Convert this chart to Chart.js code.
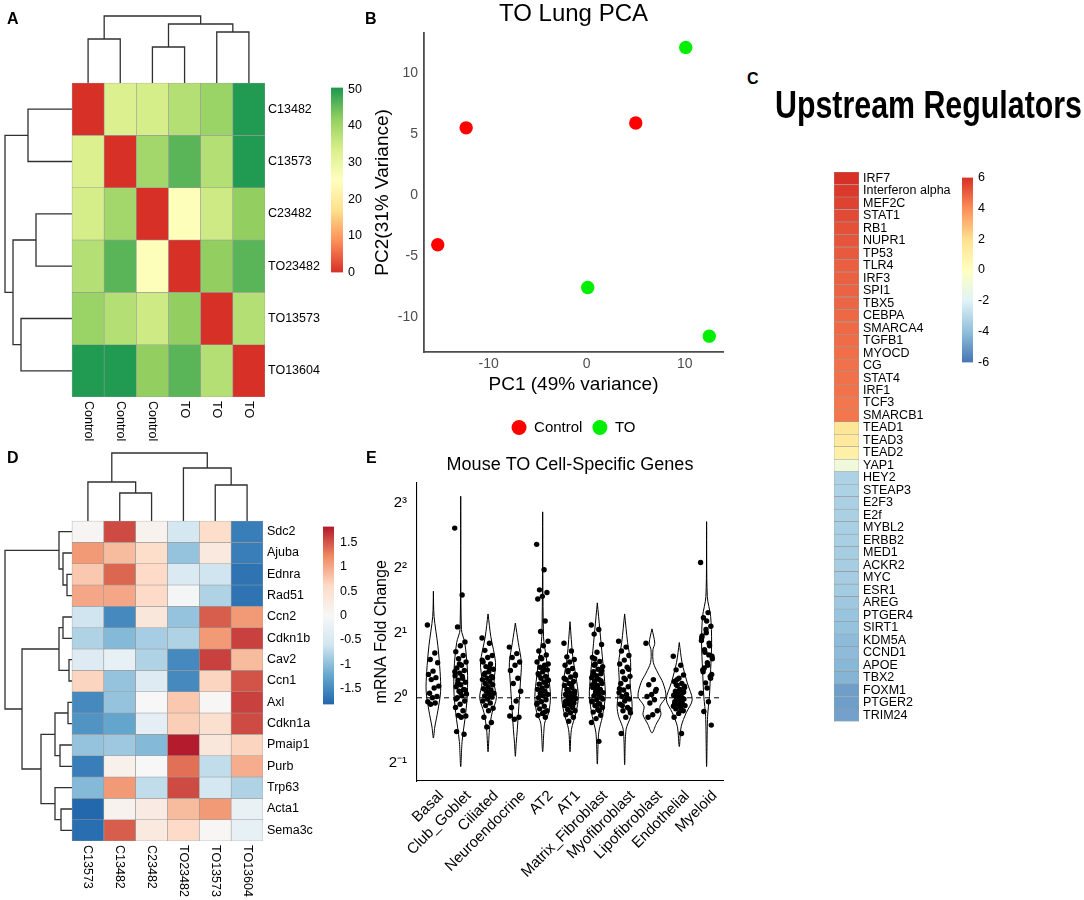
<!DOCTYPE html>
<html>
<head>
<meta charset="utf-8">
<script src="https://cdn.jsdelivr.net/npm/chart.js@4.4.0/dist/chart.umd.min.js"></script>
<style>
  body { margin: 0; background: #fff; }
  #page { position: relative; width: 1084px; height: 900px; overflow: hidden; background: #fff; }
  .box { position: absolute; }
  .tag { position: absolute; font: bold 16px 'Liberation Sans', Arial, sans-serif; line-height: 16px; color: #000; }
</style>
</head>
<body>
<div id="page">
  <div class="box" style="left:0;top:0;width:370px;height:450px"><canvas id="heatA"></canvas></div>
  <div class="box" style="left:325px;top:75px;width:45px;height:210px"><canvas id="barA"></canvas></div>
  <div class="box" style="left:370px;top:0;width:365px;height:445px"><canvas id="pcaB"></canvas></div>
  <div class="box" style="left:760px;top:80px;width:324px;height:653px"><canvas id="regC"></canvas></div>
  <div class="box" style="left:955px;top:165px;width:50px;height:210px"><canvas id="barC"></canvas></div>
  <div class="box" style="left:0;top:440px;width:370px;height:460px"><canvas id="heatD"></canvas></div>
  <div class="box" style="left:317px;top:513px;width:53px;height:205px"><canvas id="barD"></canvas></div>
  <div class="box" style="left:370px;top:440px;width:370px;height:460px"><canvas id="violinE"></canvas></div>
  <div class="tag" style="left:7px;top:11px">A</div>
  <div class="tag" style="left:365px;top:11px">B</div>
  <div class="tag" style="left:747px;top:71px">C</div>
  <div class="tag" style="left:7px;top:450px">D</div>
  <div class="tag" style="left:366px;top:450px">E</div>
</div>
<script>
// ---------- data: panel A (sample distances) ----------
const sampleIds = ['C13482', 'C13573', 'C23482', 'TO23482', 'TO13573', 'TO13604'];
const sampleGroups = ['Control', 'Control', 'Control', 'TO', 'TO', 'TO'];
const distRows = [
  [0, 33, 34, 38, 41, 50],
  [33, 0, 40, 46, 38, 50],
  [34, 40, 0, 26, 35, 42],
  [38, 46, 26, 0, 42, 46],
  [41, 38, 35, 42, 0, 38],
  [50, 50, 42, 46, 38, 0]
];
// merges: [left, right, height]; number = leaf index, 'mK' = merge K
const distTree = [[0, 1, 44], [2, 3, 36], [4, 5, 51], ['m1', 'm2', 59], ['m0', 'm3', 67]];
const distTicks = [0, 10, 20, 30, 40, 50];

// ---------- data: panel B (PCA) ----------
const pcaControl = [[-15.2, -4.1], [-12.3, 5.5], [5.0, 5.9]];
const pcaTO = [[10.1, 12.1], [0.1, -7.6], [12.5, -11.6]];
const pcaXTicks = [-10, 0, 10];
const pcaYTicks = [-10, -5, 0, 5, 10];

// ---------- data: panel C (upstream regulators, z-score) ----------
const regulators = ['IRF7', 'Interferon alpha', 'MEF2C', 'STAT1', 'RB1', 'NUPR1', 'TP53', 'TLR4', 'IRF3', 'SPI1',
  'TBX5', 'CEBPA', 'SMARCA4', 'TGFB1', 'MYOCD', 'CG', 'STAT4', 'IRF1', 'TCF3', 'SMARCB1',
  'TEAD1', 'TEAD3', 'TEAD2', 'YAP1', 'HEY2', 'STEAP3', 'E2F3', 'E2f', 'MYBL2', 'ERBB2',
  'MED1', 'ACKR2', 'MYC', 'ESR1', 'AREG', 'PTGER4', 'SIRT1', 'KDM5A', 'CCND1', 'APOE',
  'TBX2', 'FOXM1', 'PTGER2', 'TRIM24'];
const regulatorZ = [6.0, 5.8, 5.6, 5.45, 5.3, 5.2, 5.1, 5.0, 4.95, 4.9,
  4.85, 4.8, 4.75, 4.7, 4.65, 4.6, 4.6, 4.55, 4.5, 4.5,
  1.6, 1.4, 1.0, -1.0, -3.3, -3.3, -3.35, -3.35, -3.4, -3.4,
  -3.45, -3.45, -3.5, -3.55, -3.65, -3.8, -3.9, -4.1, -4.1, -4.2,
  -4.3, -4.9, -4.9, -4.8];
const regTicks = [-6, -4, -2, 0, 2, 4, 6];

// ---------- data: panel D (gene z-scores) ----------
const geneNames = ['Sdc2', 'Ajuba', 'Ednra', 'Rad51', 'Ccn2', 'Cdkn1b', 'Cav2', 'Ccn1', 'Axl', 'Cdkn1a',
  'Pmaip1', 'Purb', 'Trp63', 'Acta1', 'Sema3c'];
const geneSamples = ['C13573', 'C13482', 'C23482', 'TO23482', 'TO13573', 'TO13604'];
const geneZ = [
  [0.05, 1.55, 0.1, -0.55, 0.55, -1.6],
  [1.1, 0.85, 0.55, -0.95, 0.3, -1.6],
  [0.75, 1.4, 0.6, -0.45, -0.6, -1.7],
  [1.0, 1.0, 0.6, -0.05, -0.8, -1.7],
  [-0.6, -1.5, 0.35, -0.95, 1.45, 1.1],
  [-0.8, -1.05, -0.85, -0.8, 1.1, 1.6],
  [-0.4, -0.25, -0.8, -1.5, 1.6, 0.85],
  [0.65, -0.95, -0.4, -1.5, 0.65, 1.5],
  [-1.5, -0.95, 0.0, 0.75, 0.02, 1.6],
  [-1.4, -1.25, -0.3, 0.7, 0.5, 1.55],
  [-0.95, -0.9, -1.05, 1.8, 0.35, 0.65],
  [-1.6, 0.15, 0.0, 1.35, -0.7, 0.95],
  [-1.05, 1.1, -0.7, 1.55, -0.55, -0.8],
  [-1.8, 0.1, 0.25, 0.85, 1.1, -0.2],
  [-1.75, 1.45, 0.3, 0.6, 0.02, -0.25]
];
const geneTree = [[2, 3, 5], [1, 'm0', 9], [0, 'm1', 13], [4, 5, 9], [6, 7, 3], ['m3', 'm4', 13],
  [8, 9, 4], [10, 11, 12], ['m6', 'm7', 17], [13, 14, 11], [12, 'm9', 17], ['m8', 'm10', 31],
  ['m5', 'm11', 50], ['m2', 'm12', 67]];
const geneSampleTree = [[1, 2, 28], [0, 'm0', 39], [4, 5, 36], [3, 'm2', 53], ['m1', 'm3', 68]];
const geneTicks = [-1.5, -1, -0.5, 0, 0.5, 1, 1.5];

// ---------- data: panel E (log2 fold change per cell type) ----------
const cellTypes = ['Basal', 'Club_Goblet', 'Ciliated', 'Neuroendocrine', 'AT2', 'AT1', 'Matrix_Fibroblast',
  'Myofibroblast', 'Lipofibroblast', 'Endothelial', 'Myeloid'];
// violin outline: [log2 FC, relative half width], top to bottom
const violinProfiles = [
  [[1.64, 0], [1.25, 0.05], [0.8, 0.32], [0.4, 0.48], [0.1, 0.52], [-0.2, 0.32], [-0.45, 0.1], [-0.62, 0]],
  [[3.1, 0], [1.05, 0.05], [0.85, 0.29], [0.43, 0.48], [0.07, 0.48], [-0.23, 0.36], [-0.67, 0.1], [-1.06, 0]],
  [[1.29, 0], [0.94, 0.2], [0.54, 0.54], [0.23, 0.43], [0, 0.6], [-0.23, 0.29], [-0.49, 0.1], [-0.83, 0]],
  [[1.15, 0], [0.85, 0.21], [0.54, 0.43], [0.23, 0.36], [-0.13, 0.25], [-0.49, 0.14], [-0.7, 0.06], [-0.9, 0]],
  [[2.86, 0], [0.94, 0.06], [0.63, 0.25], [0.32, 0.43], [0.02, 0.56], [-0.23, 0.43], [-0.39, 0.14], [-0.83, 0]],
  [[1.17, 0], [0.63, 0.2], [0.32, 0.43], [0.02, 0.6], [-0.23, 0.43], [-0.49, 0.1], [-0.83, 0]],
  [[1.46, 0], [1.05, 0.18], [0.63, 0.36], [0.32, 0.5], [0.02, 0.57], [-0.29, 0.36], [-0.54, 0.1], [-1.02, 0]],
  [[1.29, 0], [0.85, 0.21], [0.54, 0.43], [0.23, 0.39], [-0.13, 0.54], [-0.29, 0.43], [-0.49, 0.1], [-1.03, 0]],
  [[1.06, 0], [0.84, 0.2], [0.74, 0.07], [0.54, 0.1], [0.38, 0.43], [0.23, 0.79], [0.02, 1.0], [-0.13, 0.57],
    [-0.26, 0.64], [-0.41, 0.29], [-0.54, 0]],
  [[0.85, 0], [0.54, 0.2], [0.23, 0.57], [-0.03, 0.93], [-0.23, 0.5], [-0.44, 0.14], [-0.75, 0]],
  [[2.71, 0], [1.56, 0.05], [1.25, 0.29], [0.85, 0.36], [0.43, 0.29], [0.02, 0.2], [-0.29, 0.07], [-1.06, 0]]
];
const cellPoints = [
  [1.12, 0.69, 0.59, 0.54, 0.41, 0.36, 0.31, 0.28, 0.18, 0.15, 0.07, 0.02, 0.0, -0.06, -0.08, -0.1],
  [2.61, 1.58, 1.09, 0.86, 0.8, 0.71, 0.65, 0.6, 0.55, 0.5, 0.46, 0.42, 0.38, 0.34, 0.3, 0.27, 0.24, 0.2, 0.17,
    0.13, 0.1, 0.06, 0.03, 0.0, -0.05, -0.1, -0.15, -0.2, -0.27, -0.28, -0.3, -0.52, -0.56, 0.52, 0.4, 0.33,
    0.22, 0.12, 0.08, -0.02],
  [0.92, 0.84, 0.73, 0.65, 0.62, 0.55, 0.52, 0.48, 0.44, 0.4, 0.36, 0.33, 0.3, 0.28, 0.25, 0.22, 0.2, 0.17,
    0.14, 0.12, 0.1, 0.07, 0.05, 0.03, 0.01, -0.02, -0.05, -0.08, -0.12, -0.16, -0.2, -0.3, -0.38, -0.45, 0.58,
    0.46, 0.38, 0.31],
  [0.78, 0.68, 0.62, 0.55, 0.5, 0.42, 0.3, 0.22, 0.1, -0.05, -0.15, -0.3, -0.33, -0.28],
  [2.36, 1.97, 1.66, 1.62, 1.56, 1.52, 1.18, 1.02, 0.87, 0.8, 0.72, 0.66, 0.6, 0.55, 0.5, 0.47, 0.43, 0.4,
    0.37, 0.33, 0.3, 0.27, 0.24, 0.21, 0.18, 0.15, 0.13, 0.1, 0.07, 0.05, 0.03, 0.0, -0.03, -0.06, -0.1, -0.13,
    -0.17, -0.2, -0.24, -0.27, -0.3, 0.62, 0.52, 0.45, 0.35, 0.25, 0.12, -0.08, -0.22],
  [0.84, 0.72, 0.63, 0.59, 0.55, 0.5, 0.45, 0.4, 0.36, 0.32, 0.28, 0.25, 0.22, 0.19, 0.16, 0.13, 0.1, 0.08,
    0.05, 0.03, 0.01, -0.01, -0.03, -0.05, -0.08, -0.1, -0.12, -0.15, -0.18, -0.2, -0.23, -0.26, -0.3, -0.36,
    0.3, 0.2, 0.12, 0.06, 0.0, -0.06, -0.14, 0.42, 0.34, 0.02, -0.09],
  [1.12, 1.05, 0.98, 0.82, 0.7, 0.62, 0.56, 0.52, 0.48, 0.44, 0.4, 0.37, 0.34, 0.31, 0.28, 0.25, 0.22, 0.19,
    0.16, 0.13, 0.1, 0.08, 0.05, 0.03, 0.0, -0.03, -0.06, -0.09, -0.12, -0.15, -0.18, -0.22, -0.27, -0.32,
    -0.38, -0.67, 0.5, 0.42, 0.3, 0.2, 0.12, 0.06, -0.02, -0.1, 0.35, 0.26, 0.15, -0.05, -0.2, 0.6],
  [0.87, 0.78, 0.72, 0.65, 0.58, 0.52, 0.47, 0.4, 0.33, 0.28, 0.22, 0.17, 0.12, 0.08, 0.05, 0.02, -0.02, -0.05,
    -0.1, -0.15, -0.2, -0.23, -0.3, -0.55, 0.44, 0.3, 0.14, 0.0, -0.12, -0.18],
  [0.84, 0.28, 0.2, 0.13, 0.05, 0.02, -0.03, -0.08, -0.2, -0.26, -0.3, 0.1],
  [0.64, 0.5, 0.43, 0.35, 0.3, 0.25, 0.22, 0.19, 0.16, 0.13, 0.1, 0.08, 0.06, 0.04, 0.02, 0.0, -0.02, -0.04,
    -0.06, -0.08, -0.1, -0.12, -0.14, -0.17, -0.2, -0.24, -0.3, -0.55, 0.28, 0.18, 0.12, 0.05, -0.01, -0.07,
    -0.13, -0.19, 0.2, 0.09, -0.03, -0.1],
  [2.08, 1.31, 1.23, 1.1, 1.0, 0.92, 0.84, 0.74, 0.64, 0.54, 0.43, 0.33, 0.23, 0.07, -0.06, -0.21, -0.42, 1.18,
    0.95, 0.8, 0.7, 0.6, 0.5, 0.4, 0.3, 1.05, 0.88, 0.66, 0.46, 0.36, 0.15]
];
const log2Ticks = [-1, 0, 1, 2, 3];

// ---------- palettes (low -> high) ----------
const RDYLGN = ['#D73027', '#FC8D59', '#FEE08B', '#FFFFBF', '#D9EF8B', '#91CF60', '#1A9850'];
const RDYLBU = ['#4575B4', '#91BFDB', '#E0F3F8', '#FFFFBF', '#FEE090', '#FC8D59', '#D73027'];
const RDBU = ['#2166AC', '#67A9CF', '#D1E5F0', '#F7F7F7', '#FDDBC7', '#EF8A62', '#B2182B'];

Chart.defaults.font.family = "'Liberation Sans', Arial, Helvetica, sans-serif";
Chart.defaults.color = '#000';
Chart.defaults.animation = false;
Chart.defaults.maintainAspectRatio = false;
Chart.defaults.plugins.legend.display = false;
Chart.defaults.plugins.tooltip.enabled = false;

function hexRgb(h) {
  return [1, 3, 5].map(i => parseInt(h.slice(i, i + 2), 16));
}

// linear colour ramp like colorRampPalette
function ramp(stops, lo, hi, v) {
  const t = Math.min(1, Math.max(0, (v - lo) / (hi - lo))) * (stops.length - 1);
  const i = Math.min(stops.length - 2, Math.floor(t));
  const f = t - i;
  const a = hexRgb(stops[i]), b = hexRgb(stops[i + 1]);
  return 'rgb(' + a.map((x, k) => Math.round(x + (b[k] - x) * f)).join(',') + ')';
}

// turn a merge list into U-shaped segments [[pos, h] x4]
function dendroSegments(tree) {
  const nodes = [];
  const get = ref => typeof ref === 'number' ? { pos: ref + 0.5, h: 0 } : nodes[+ref.slice(1)];
  return tree.map(([a, b, h]) => {
    const l = get(a), r = get(b);
    nodes.push({ pos: (l.pos + r.pos) / 2, h: h });
    return [[l.pos, l.h], [l.pos, h], [r.pos, h], [r.pos, r.h]];
  });
}

// column labels under a heatmap, rotated like pheatmap
const colLabelPlugin = {
  id: 'colLabels',
  afterDraw(chart, args, opts) {
    if (!opts.labels) return;
    const ctx = chart.ctx, x = chart.scales.x, y = chart.scales.y;
    ctx.save();
    ctx.font = opts.font;
    ctx.fillStyle = '#000';
    ctx.textAlign = 'left';
    ctx.textBaseline = 'middle';
    opts.labels.forEach((lab, c) => {
      ctx.save();
      ctx.translate(x.getPixelForValue(c + 0.5), y.getPixelForValue(y.max) + opts.gap);
      ctx.rotate(Math.PI / 2);
      ctx.fillText(lab, 0, 0);
      ctx.restore();
    });
    ctx.restore();
  }
};

// free caption (used for the squeezed panel C heading)
const captionPlugin = {
  id: 'caption',
  afterDraw(chart, args, o) {
    if (!o.text) return;
    const ctx = chart.ctx;
    ctx.save();
    ctx.font = o.font;
    ctx.fillStyle = '#000';
    ctx.textAlign = 'center';
    ctx.textBaseline = 'middle';
    ctx.fillText(o.text, o.x, o.y, o.maxWidth);
    ctx.restore();
  }
};

function clusteredHeatmap(id, g) {
  const nR = g.rows.length, nC = g.cols.length;
  const xMin = -nC * g.leftDendro / g.heatW;
  const yMin = -nR * g.topDendro / g.heatH;
  const maxRowH = Math.max(...g.rowTree.map(m => m[2]));
  const maxColH = Math.max(...g.colTree.map(m => m[2]));
  const datasets = [];
  g.matrix.forEach((row, r) => {
    datasets.push({
      type: 'bar',
      data: row.map((v, c) => ({ x: c + 0.5, y: [r, r + 1] })),
      backgroundColor: row.map(v => ramp(g.stops, g.lo, g.hi, v)),
      borderColor: '#9a9a9a',
      borderWidth: 0.6,
      borderSkipped: false,
      grouped: false,
      barPercentage: 1,
      categoryPercentage: 1
    });
  });
  const line = pts => ({
    type: 'line', data: pts, borderColor: '#303030', borderWidth: 1.3,
    pointRadius: 0, fill: false, tension: 0, clip: false
  });
  dendroSegments(g.colTree).forEach(s => datasets.push(line(s.map(([p, h]) => ({ x: p, y: h * yMin / maxColH })))));
  dendroSegments(g.rowTree).forEach(s => datasets.push(line(s.map(([p, h]) => ({ x: h * xMin / maxRowH, y: p })))));

  new Chart(document.getElementById(id), {
    type: 'bar',
    data: { datasets: datasets },
    plugins: [colLabelPlugin],
    options: {
      layout: { padding: { left: g.padL, top: g.padT, right: 0, bottom: g.padB } },
      plugins: { colLabels: { labels: g.cols, font: '12.5px "Liberation Sans", Arial, sans-serif', gap: 4 } },
      scales: {
        x: {
          type: 'linear', min: xMin, max: nC, display: false, offset: false,
          afterBuildTicks: s => { s.ticks = g.cols.map((_, c) => ({ value: c + 0.5 })); }
        },
        y: {
          type: 'linear', min: yMin, max: nR, reverse: true, position: 'right',
          grid: { display: false, drawTicks: false }, border: { display: false },
          afterBuildTicks: s => { s.ticks = g.rows.map((_, r) => ({ value: r + 0.5 })); },
          ticks: { autoSkip: false, padding: g.labelPad, font: { size: 12.5 }, color: '#000',
            callback: v => g.rows[Math.floor(v)] },
          afterFit: s => { s.width = g.axisW; }
        }
      }
    }
  });
}

function colorBar(id, g) {
  new Chart(document.getElementById(id), {
    type: 'bar',
    data: {
      labels: [''],
      datasets: [{
        data: [[g.lo, g.hi]],
        backgroundColor: c => {
          const a = c.chart.chartArea;
          if (!a) return null;
          const grad = c.chart.ctx.createLinearGradient(0, a.bottom, 0, a.top);
          g.stops.forEach((s, i) => grad.addColorStop(i / (g.stops.length - 1), s));
          return grad;
        },
        borderWidth: 0, barPercentage: 1, categoryPercentage: 1
      }]
    },
    options: {
      layout: { padding: { left: g.padL, top: g.padT, right: 0, bottom: g.padB } },
      scales: {
        x: { display: false },
        y: {
          position: 'right', min: g.lo, max: g.hi,
          grid: { display: false, drawTicks: false }, border: { display: false },
          afterBuildTicks: s => { s.ticks = g.ticks.map(v => ({ value: v })); },
          ticks: { padding: g.tickPad, font: { size: 12.5 }, color: '#000', callback: v => String(v) },
          afterFit: s => { s.width = g.axisW; }
        }
      }
    }
  });
}

// ---------- panel A ----------
clusteredHeatmap('heatA', {
  rows: sampleIds, cols: sampleGroups, matrix: distRows, stops: RDYLGN, lo: 0, hi: 50.5,
  rowTree: distTree, colTree: distTree,
  heatW: 193, heatH: 314, leftDendro: 67, topDendro: 67,
  padL: 5, padT: 16, padB: 53, axisW: 105, labelPad: 3
});
colorBar('barA', { stops: RDYLGN, lo: 0, hi: 50.5, ticks: distTicks, padL: 6, padT: 8, padB: 12, axisW: 27, tickPad: 5 });

// ---------- panel B ----------
const pcaAxis = {
  grid: { display: false, drawTicks: false },
  border: { color: '#4d4d4d', width: 1.8 },
  ticks: { font: { size: 14 }, color: '#4d4d4d' }
};
new Chart(document.getElementById('pcaB'), {
  type: 'scatter',
  data: {
    datasets: [
      { label: 'Control', data: pcaControl.map(([x, y]) => ({ x, y })), backgroundColor: '#ff0000',
        borderWidth: 0, pointRadius: 6.7, pointStyle: 'circle' },
      { label: 'TO', data: pcaTO.map(([x, y]) => ({ x, y })), backgroundColor: '#00ee00',
        borderWidth: 0, pointRadius: 6.7, pointStyle: 'circle' }
    ]
  },
  options: {
    layout: { padding: { left: 0, top: 0, right: 12, bottom: 0 } },
    plugins: {
      title: { display: true, text: 'TO Lung PCA', fullSize: false, color: '#000',
        font: { size: 24, weight: 'normal' }, padding: { top: 0, bottom: 4 } },
      legend: { display: true, position: 'bottom', fullSize: false,
        labels: { usePointStyle: true, pointStyle: 'circle', boxWidth: 15, boxHeight: 10.6, padding: 10,
          font: { size: 15 }, color: '#000' } }
    },
    scales: {
      x: Object.assign({}, pcaAxis, {
        type: 'linear', min: -16.6, max: 13.9,
        afterBuildTicks: s => { s.ticks = pcaXTicks.map(v => ({ value: v })); },
        ticks: Object.assign({}, pcaAxis.ticks, { padding: 4 }),
        title: { display: true, text: 'PC1 (49% variance)', color: '#000', font: { size: 19 }, padding: { top: 0, bottom: 14 } },
        afterFit: s => { s.height = 58; }
      }),
      y: Object.assign({}, pcaAxis, {
        type: 'linear', min: -12.9, max: 13.3,
        afterBuildTicks: s => { s.ticks = pcaYTicks.map(v => ({ value: v })); },
        ticks: Object.assign({}, pcaAxis.ticks, { padding: 6 }),
        title: { display: true, text: 'PC2(31% Variance)', color: '#000', font: { size: 19 }, padding: { top: 1, bottom: 0 } },
        afterFit: s => { s.width = 54; }
      })
    }
  }
});

// ---------- panel C ----------
new Chart(document.getElementById('regC'), {
  type: 'bar',
  data: {
    labels: regulators,
    datasets: [{
      data: regulators.map(() => [0, 1]),
      backgroundColor: regulatorZ.map(v => ramp(RDYLBU, -6, 6, v)),
      borderColor: '#9a9a9a', borderWidth: 0.6, borderSkipped: false,
      barPercentage: 1, categoryPercentage: 1
    }]
  },
  plugins: [captionPlugin],
  options: {
    indexAxis: 'y',
    layout: { padding: { left: 74, top: 92, right: 0, bottom: 4 } },
    plugins: {
      caption: { text: 'Upstream Regulators', x: 168.5, y: 28, maxWidth: 307,
        font: 'bold 38px "Liberation Sans", Arial, sans-serif' }
    },
    scales: {
      x: { display: false, min: 0, max: 1 },
      y: {
        position: 'right', grid: { display: false, drawTicks: false }, border: { display: false },
        ticks: { autoSkip: false, padding: 4, font: { size: 12.5 }, color: '#000' },
        afterFit: s => { s.width = 225; }
      }
    }
  }
});
colorBar('barC', { stops: RDYLBU, lo: -6, hi: 6, ticks: regTicks, padL: 7, padT: 8, padB: 12, axisW: 32, tickPad: 5 });

// ---------- panel D ----------
clusteredHeatmap('heatD', {
  rows: geneNames, cols: geneSamples, matrix: geneZ, stops: RDBU, lo: -1.82, hi: 1.82,
  rowTree: geneTree, colTree: geneSampleTree,
  heatW: 191, heatH: 320, leftDendro: 67, topDendro: 68,
  padL: 5, padT: 13, padB: 59, axisW: 107, labelPad: 4
});
colorBar('barD', { stops: RDBU, lo: -1.82, hi: 1.82, ticks: geneTicks, padL: 6, padT: 8, padB: 8, axisW: 36, tickPad: 6 });

// ---------- panel E ----------
const SUP = { '-1': '\u207b\u00b9', '0': '\u2070', '1': '\u00b9', '2': '\u00b2', '3': '\u00b3' };
const VIOLIN_HALF = 0.51;   // category units for relative width 1
const JITTER = 0.22;
const jitter = i => JITTER * (2 * ((i * 0.6180339887) % 1) - 1);

const eSets = [];
cellPoints.forEach((pts, c) => eSets.push({
  data: pts.map((v, i) => ({ x: c + 1 + jitter(i), y: v })),
  backgroundColor: '#000', borderWidth: 0, pointRadius: 2.7, order: 0
}));
violinProfiles.forEach((prof, c) => {
  const right = prof.map(([v, w]) => ({ x: c + 1 + w * VIOLIN_HALF, y: v }));
  const left = prof.slice().reverse().map(([v, w]) => ({ x: c + 1 - w * VIOLIN_HALF, y: v }));
  eSets.push({
    data: right.concat(left.slice(1)), showLine: true, borderColor: '#000', borderWidth: 1,
    pointRadius: 0, tension: 0.3, fill: false, order: 1
  });
});
eSets.push({
  data: [{ x: 0.4, y: 0 }, { x: 11.6, y: 0 }], showLine: true, borderColor: '#000', borderWidth: 1,
  borderDash: [5, 4], pointRadius: 0, order: 2
});

new Chart(document.getElementById('violinE'), {
  type: 'scatter',
  data: { datasets: eSets },
  options: {
    layout: { padding: { left: 0, top: 0, right: 17, bottom: 0 } },
    plugins: {
      title: { display: true, text: 'Mouse TO Cell-Specific Genes', fullSize: false, color: '#000',
        font: { size: 18, weight: 'normal' }, padding: { top: 14, bottom: 7 } }
    },
    scales: {
      x: {
        type: 'linear', min: 0.4, max: 11.6,
        grid: { display: false, drawTicks: false }, border: { color: '#000', width: 1.1 },
        afterBuildTicks: s => { s.ticks = cellTypes.map((_, i) => ({ value: i + 1 })); },
        ticks: { autoSkip: false, minRotation: 45, maxRotation: 45, padding: 6, labelOffset: 8,
          font: { size: 15 }, color: '#000', callback: v => cellTypes[Math.round(v) - 1] },
        afterFit: s => { s.height = 119; }
      },
      y: {
        type: 'linear', min: -1.28, max: 3.31,
        grid: { display: false, drawTicks: false }, border: { color: '#000', width: 1.1 },
        afterBuildTicks: s => { s.ticks = log2Ticks.map(v => ({ value: v })); },
        ticks: { padding: 10, font: { size: 15 }, color: '#000', callback: v => '2' + SUP[String(v)] },
        title: { display: true, text: 'mRNA Fold Change', color: '#000', font: { size: 16 }, padding: { top: 2, bottom: 0 } },
        afterFit: s => { s.width = 47; }
      }
    }
  }
});
</script>
</body>
</html>
